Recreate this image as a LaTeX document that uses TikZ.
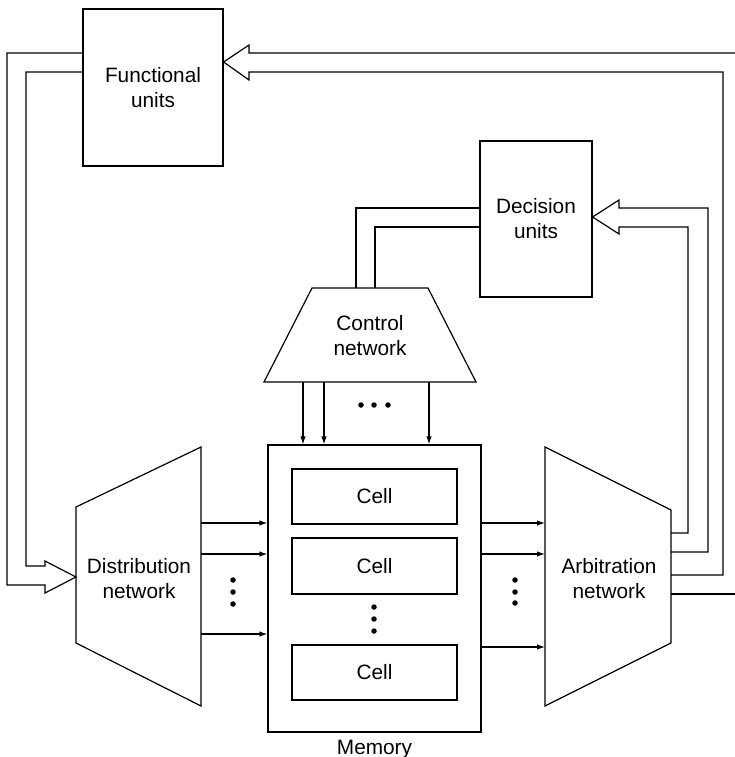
\documentclass[tikz,border=0pt]{standalone}
\usepackage{fontspec}
\setmainfont{Liberation Sans}
\usetikzlibrary{arrows.meta,calc}
\tikzset{
  ln/.style={line width=1.2pt, line join=miter},
  box/.style={draw, ln, inner sep=0pt, align=center, font=\lbl},
  txt/.style={inner sep=0pt, align=center, font=\lbl},
  tip/.style={ln, -{Latex[length=8pt,width=5.5pt]}},
  dot/.style={fill, circle, inner sep=0pt, minimum size=5.5pt}
}
\newcommand{\lbl}{\fontsize{20.8pt}{25pt}\selectfont}
\begin{document}
\begin{tikzpicture}[x=1pt,y=-1pt]
\useasboundingbox (0,0) rectangle (735,757);
% boxes
\node[box, minimum width=140pt, minimum height=157pt] (fu) at (153,87.5) {Functional\\units};
\node[box, minimum width=112pt, minimum height=156pt] (du) at (536,219) {Decision\\units};
\node[draw, ln, minimum width=213pt, minimum height=287pt] (mem) at (374.5,588.5) {};
\node[box, minimum width=165pt, minimum height=55pt] (c1) at (374.5,496.5) {Cell};
\node[box, minimum width=165pt, minimum height=56pt] (c2) at (374.5,566) {Cell};
\node[box, minimum width=165pt, minimum height=55pt] (c3) at (374.5,672.5) {Cell};
\node[txt] (memlbl) at (374.5,749) {Memory};
% trapezoids
\draw[ln] (312,288) coordinate (cnTL) -- (428,288) coordinate (cnTR) -- (476,382) coordinate (cnBR) -- (264,382) coordinate (cnBL) -- cycle;
\node[txt] (cn) at (370,336) {Control\\network};
\draw[ln] (76,507) -- (201,447) coordinate (dnTR) -- (201,706) -- (76,643) -- cycle;
\coordinate (dnL) at (76,577);
\node[txt] (dn) at (139,579) {Distribution\\network};
\draw[ln] (545,447) coordinate (anTL) -- (671,510) -- (671,643) -- (545,706) -- cycle;
\node[txt] (an) at (609,579) {Arbitration\\network};
% distribution -> memory
\foreach \y in {523,554,634} \draw[tip] (201,\y) -- (mem.west |- 0,\y);
% memory -> arbitration
\foreach \y in {523,554,647} \draw[tip] (mem.east |- 0,\y) -- (545,\y);
% control -> memory
\foreach \x in {303,324,429} \draw[tip] (\x,382) -- (mem.north -| \x,0);
% dots
\foreach \y in {580,592,604} \node[dot] at (233,\y) {};
\foreach \y in {580,592,603} \node[dot] at (515,\y) {};
\foreach \y in {607,619,631} \node[dot] at (374,\y) {};
\foreach \x in {361,374,388} \node[dot] at (\x,405) {};
% functional units -> distribution network (hollow)
\draw[ln] (fu.west |- 0,53) -- (7,53) -- (7,585) -- (45,585) -- (45,593) -- (dnL) -- (45,561) -- (45,566) -- (26,566) -- (26,72) -- (fu.west |- 0,72);
% arbitration -> functional units (hollow)
\draw[ln] (735,53) -- (249,53) -- (249,45) -- (fu.east |- 0,62) -- (249,80) -- (249,72) -- (723,72) -- (723,575) -- (671,575);
\draw[ln] (671,594) -- (735,594);
% arbitration -> decision units (hollow)
\draw[ln] (671,552) -- (708,552) -- (708,208) -- (619,208) -- (619,200) -- (du.east |- 0,217) -- (619,234) -- (619,227) -- (688,227) -- (688,533) -- (671,533);
% decision units -> control network
\draw[ln] (du.west |- 0,208) -- (356,208) -- (356,288);
\draw[ln] (du.west |- 0,227) -- (375,227) -- (375,288);
\end{tikzpicture}
\end{document}
